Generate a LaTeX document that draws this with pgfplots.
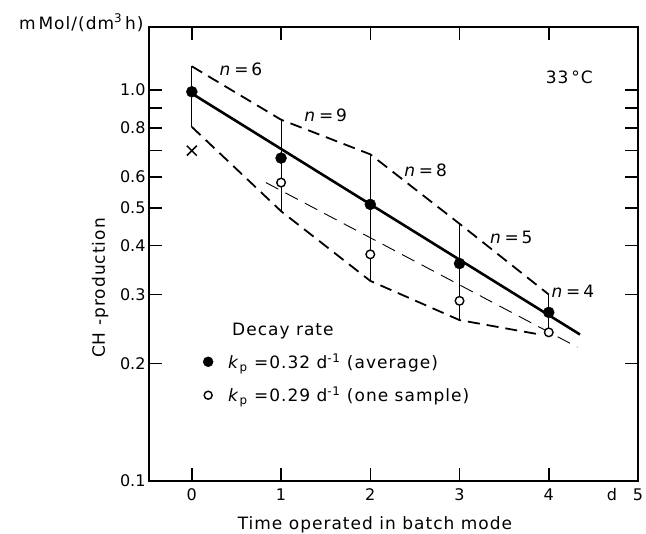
\documentclass[border=0pt]{standalone}
\usepackage{fontspec}
\setmainfont{DejaVu Sans}[LetterSpace=6]
\newfontfamily\tickfont{DejaVu Sans}
\usepackage{pgfplots}
\pgfplotsset{compat=1.18}

\newcommand{\lblfont}{\fontsize{17}{20}\selectfont}

\begin{document}
\begin{tikzpicture}
\useasboundingbox (-149pt,-53pt) rectangle (497pt,481pt);
\begin{axis}[
  at={(0pt,0pt)}, anchor=south west,
  scale only axis, width=489pt, height=454pt,
  xmin=-0.48, xmax=5, ymin=0.1, ymax=1.45,
  ymode=log,
  clip=false,
  axis line style={line width=1.5pt},
  xtick pos=both, ytick pos=both,
  major tick length=13pt,
  major tick style={line width=1.5pt, draw=black},
  tick align=inside,
  xtick={0,1,2,3,4,5},
  xticklabels={0,1,2,3,4,{\makebox[0pt][r]{d\hspace{1em}}5}},
  ytick={0.1,0.2,0.3,0.4,0.5,0.6,0.7,0.8,0.9,1.0},
  yticklabels={0.1,0.2,0.3,0.4,0.5,0.6,,0.8,,1.0},
  yminorticks=false, xminorticks=false,
  tick label style={font=\tickfont\fontsize{16}{19}\selectfont},
  xticklabel style={yshift=-4pt},
  xlabel={Time operated in batch mode},
  xlabel style={at={(axis description cs:0.462,-0.106)}, anchor=base, font=\lblfont},
  ylabel={CH -production},
  ylabel style={at={(axis description cs:-0.100,0.425)}, anchor=center, font=\lblfont},
  legend style={draw=none, fill=none, at={(axis description cs:0.097,0.358)}, anchor=north west, font=\lblfont, row sep=13pt, nodes={inner xsep=6pt}},
  legend cell align=left,
]
% range bars
\addplot[forget plot, line width=0.8pt] coordinates {(0,0.805) (0,1.15)};
\addplot[forget plot, line width=0.8pt] coordinates {(1,0.49) (1,0.84)};
\addplot[forget plot, line width=0.8pt] coordinates {(2,0.325) (2,0.685)};
\addplot[forget plot, line width=0.8pt] coordinates {(3,0.258) (3,0.455)};
\addplot[forget plot, line width=0.6pt] coordinates {(4,0.237) (4,0.30)};
% envelopes
\addplot[forget plot, line width=1.8pt, dash pattern=on 12pt off 7pt] coordinates {(0,1.15) (1,0.84) (2,0.685) (3,0.455) (4,0.30)};
\addplot[forget plot, line width=1.8pt, dash pattern=on 12pt off 7pt] coordinates {(0,0.805) (1,0.49) (2,0.325) (3,0.258) (3.9,0.237)};
% regression lines
\addplot[forget plot, line width=2.6pt] coordinates {(0,0.98) (4.35,0.237)};
\addplot[forget plot, line width=0.9pt, dash pattern=on 14pt off 8pt] coordinates {(0.83,0.58) (4.32,0.22)};
% points
\addplot[forget plot, only marks, mark=*, mark size=5.5pt, black] coordinates {(0,0.99) (1,0.67) (2,0.51) (3,0.36) (4,0.27)};
\addplot[forget plot, only marks, mark=*, mark size=4.3pt, mark options={fill=white, draw=black, line width=1.4pt}] coordinates {(1,0.58) (2,0.38) (3,0.289) (4,0.24)};
\addplot[forget plot, only marks, mark=x, mark size=7pt, mark options={line width=1.5pt}, black] coordinates {(0,0.70)};
% legend
\addlegendimage{empty legend}
\addlegendentry{\hspace{13pt}Decay rate}
\addlegendimage{only marks, mark=*, mark size=5pt, black}
\addlegendentry{\hspace{9pt}\textit{k}\textsubscript{p} =0.32 d\textsuperscript{-1} (average)}
\addlegendimage{only marks, mark=*, mark size=4pt, mark options={fill=white, draw=black, line width=1.4pt}}
\addlegendentry{\hspace{9pt}\textit{k}\textsubscript{p} =0.29 d\textsuperscript{-1} (one sample)}
% annotations
\node[font=\lblfont] at (axis cs:0.55,1.13) {\textit{n}\,=\,6};
\node[font=\lblfont] at (axis cs:1.5,0.86) {\textit{n}\,=\,9};
\node[font=\lblfont] at (axis cs:2.62,0.625) {\textit{n}\,=\,8};
\node[font=\lblfont] at (axis cs:3.58,0.42) {\textit{n}\,=\,5};
\node[font=\lblfont] at (axis cs:4.27,0.306) {\textit{n}\,=\,4};
\node[font=\lblfont] at (axis cs:4.23,1.075) {33\,°C};
\node[font=\lblfont, anchor=base east] at (axis description cs:-0.004,0.995) {m\,Mol/(dm\textsuperscript{3}\,h)};
\end{axis}
\end{tikzpicture}
\end{document}
